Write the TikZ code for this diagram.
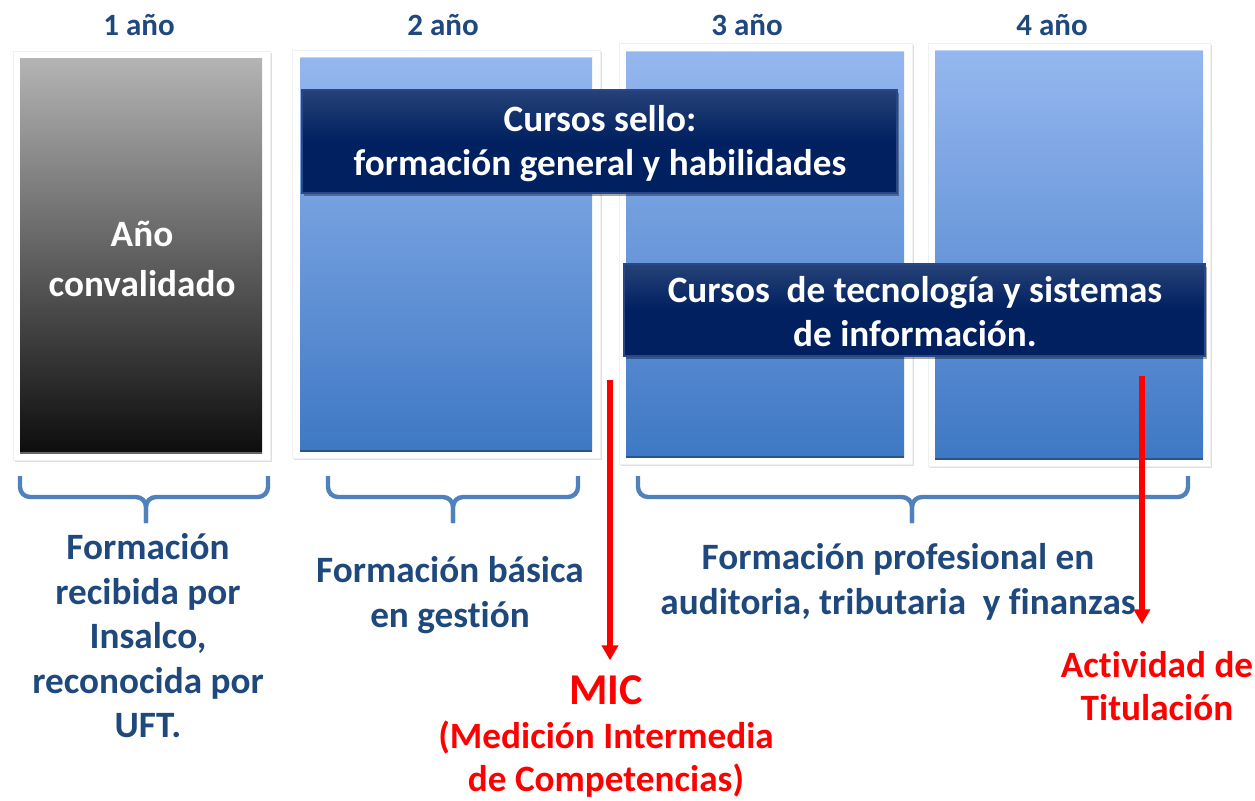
\documentclass[tikz,border=0pt]{standalone}
\usepackage{fontspec}
\setmainfont[Ligatures=NoCommon]{Carlito}
\usetikzlibrary{arrows.meta,shadows}
\definecolor{txtblue}{RGB}{31,73,125}
\definecolor{bracecol}{RGB}{79,129,189}
\definecolor{navy}{RGB}{0,32,96}
\definecolor{navyedge}{RGB}{40,72,140}
\definecolor{lblue}{RGB}{149,183,239}
\definecolor{dblue}{RGB}{62,120,196}
\definecolor{lgray}{RGB}{180,180,180}
\tikzset{%
  tipR/.tip={Triangle[width=8pt,length=7.5pt]},
  yearlab/.style={font=\bfseries\fontsize{15.5}{18}\selectfont, text=txtblue},
  boxframe/.style={fill=white, draw=gray!12, drop shadow={shadow xshift=1pt,shadow yshift=-1.2pt,opacity=0.25,fill=gray}},
  banner/.style={top color=navy!85!white, bottom color=navy, middle color=navy, draw=navyedge, line width=1pt, drop shadow={shadow xshift=1pt,shadow yshift=-1.5pt,opacity=0.35,fill=black}},
  bantext/.style={font=\bfseries\fontsize{18.6}{22}\selectfont, text=white, align=center},
  btmtext/.style={font=\bfseries\fontsize{18.6}{22.25}\selectfont, text=txtblue, align=center},
  redtext/.style={font=\bfseries\fontsize{18.6}{21.5}\selectfont, text=red, align=center},
  bracket/.style={draw=bracecol, line width=2.2pt, rounded corners=5pt},
  redarrow/.style={draw=red, line width=2.6pt, -tipR}
}

\begin{document}
\begin{tikzpicture}[x=0.5pt,y=-0.5pt]
\useasboundingbox (0,0) rectangle (1255,800);
% years
\node[yearlab] (y1) at (139,25) {1 año};
\node[yearlab] (y2) at (443,25) {2 año};
\node[yearlab] (y3) at (747,25) {3 año};
\node[yearlab] (y4) at (1052,25) {4 año};
% year boxes
\filldraw[boxframe] (13,51) rectangle (270,460);
\shade[top color=lgray, bottom color=black!95] (20,58) rectangle (262,453);
\draw[black!60, line width=0.8pt] (20,453) -- (262,453);
\filldraw[boxframe] (292,50) rectangle (600,458);
\shade[top color=lblue, bottom color=dblue] (300,57) rectangle (592,451);
\filldraw[boxframe] (619,43) rectangle (912,464);
\shade[top color=lblue, bottom color=dblue] (626,51) rectangle (904,457);
\filldraw[boxframe] (928,43) rectangle (1210,466);
\shade[top color=lblue, bottom color=dblue] (935,50) rectangle (1203,459);
\draw[dblue!70!black, line width=0.8pt] (300,451) -- (592,451);
\draw[dblue!70!black, line width=0.8pt] (626,457) -- (904,457);
\draw[dblue!70!black, line width=0.8pt] (935,459) -- (1203,459);
\draw[white!40!lblue, line width=0.8pt] (300,57.5) -- (592,57.5);
\draw[white!40!lblue, line width=0.8pt] (626,51.5) -- (904,51.5);
\draw[white!40!lblue, line width=0.8pt] (935,50.5) -- (1203,50.5);
\node[font=\bfseries\fontsize{18.6}{25}\selectfont, text=white, align=center] (conv) at (142,259) {Año\\convalidado};
% banners
\filldraw[banner] (302,90) rectangle (897,193);
\node[bantext] (sello) at (600,144) {Cursos sello:\\formación general y habilidades};
\filldraw[banner] (624,264) rectangle (1205,356);
\node[bantext] (tecno) at (915,312) {Cursos\ \ de tecnología y sistemas\\de información.};
% braces
\draw[bracket] (20,476) -- (20,497) -- (146,497) -- (146,523);
\draw[bracket] (268,476) -- (268,497) -- (146,497) -- (146,523);
\draw[bracket] (328,476) -- (328,497) -- (453,497) -- (453,523);
\draw[bracket] (578,476) -- (578,497) -- (453,497) -- (453,523);
\draw[bracket] (638,476) -- (638,497) -- (912,497) -- (912,523);
\draw[bracket] (1188,476) -- (1188,497) -- (912,497) -- (912,523);
% bottom texts
\node[btmtext] (insalco) at (148,636) {Formación\\recibida por\\Insalco,\\reconocida por\\UFT.};
\node[btmtext] (basica) at (450,595) {Formación básica\\en gestión};
\node[btmtext] (profes) at (898,582) {Formación profesional en\\auditoria, tributaria\ \ y finanzas};
\node[font=\bfseries\fontsize{22}{26}\selectfont, text=red] (mic) at (606,690) {MIC};
\node[redtext] (micsub) at (606,759) {(Medición Intermedia\\de Competencias)};
\node[redtext] (titul) at (1157,686) {Actividad de\\Titulación};
% red arrows
\coordinate (micTop) at (610,380);
\coordinate (titTop) at (1142,376);
\draw[redarrow, shorten >=4pt] (micTop) -- (micTop |- mic.north);
\draw[redarrow, shorten >=10pt] (titTop) -- (titTop |- titul.north);
\end{tikzpicture}
\end{document}
